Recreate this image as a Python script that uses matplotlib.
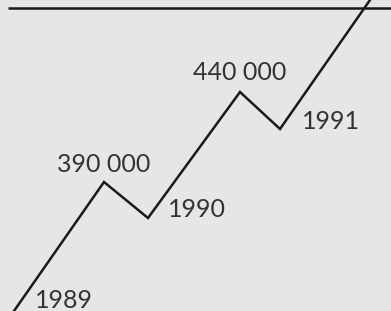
import matplotlib.pyplot as plt

# positions of the zigzag (horizontal step, height)
x_pos = [14, 104, 148, 240, 280, 370]
y_pos = [311, 182, 218, 92, 129, 0]

labels = ["1989", "390 000", "1990", "440 000", "1991"]
label_x = [35, 57, 168, 193, 302]
label_y = [308, 172, 217, 80, 129]

ref_y = 8

fig = plt.figure(figsize=(3.91, 3.11), dpi=100)
fig.patch.set_facecolor('#e6e6e6')
ax = fig.add_axes([0, 0, 1, 1])
ax.set_facecolor('#e6e6e6')
ax.set_xlim(0, 391)
ax.set_ylim(311, 0)
ax.axis('off')

# ligne de référence
ax.plot([8, 391], [ref_y, ref_y], color='#1a1a1a', lw=1.8, solid_capstyle='butt')
# courbe
ax.plot(x_pos, y_pos, color='#1a1a1a', lw=1.8, solid_joinstyle='miter')

for t, lx, ly in zip(labels, label_x, label_y):
    ax.text(lx, ly, t, fontsize=18, family='Lato', color='#333333',
            ha='left', va='baseline')

fig.savefig('out.png', dpi=100, facecolor=fig.get_facecolor())
